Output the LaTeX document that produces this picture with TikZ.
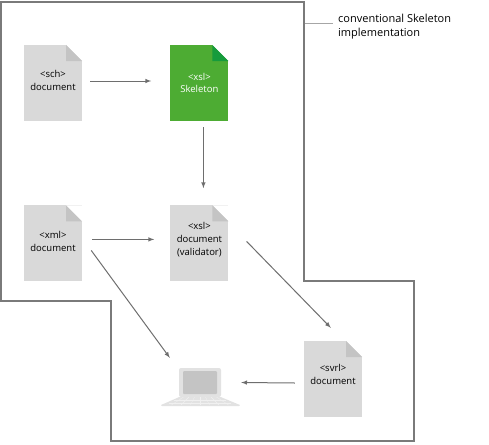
\documentclass[tikz,border=0pt]{standalone}
\usepackage{fontspec}
\setmainfont{Open Sans}
\usetikzlibrary{arrows,positioning}
\definecolor{docgray}{HTML}{D9D9D9}
\definecolor{foldgray}{HTML}{C4C4C4}
\definecolor{docgreen}{HTML}{4DAC33}
\definecolor{foldgreen}{HTML}{169B3C}
\definecolor{linegray}{HTML}{6E6E6E}
\definecolor{framegray}{HTML}{7A7A7A}
\definecolor{padgray}{HTML}{E2E2E2}
\begin{document}
\begin{tikzpicture}[x=1pt,y=-1pt,>=latex,
  doc node/.style={rectangle,fill=docgray,minimum width=58pt,minimum height=76pt,inner sep=0pt,
    align=center,font=\fontsize{9.5}{13}\selectfont,text depth=5pt,
    path picture={
      \fill[white] ([xshift=-16pt]path picture bounding box.north east) -- (path picture bounding box.north east) -- ([yshift=-16pt]path picture bounding box.north east) -- cycle;
      \fill[#1] ([xshift=-16pt]path picture bounding box.north east) -- ([yshift=-16pt]path picture bounding box.north east) -- ([shift={(-16pt,-16pt)}]path picture bounding box.north east) -- cycle;
    }},
  doc node/.default=foldgray]
  \useasboundingbox (0,0) rectangle (489,444);
  % frame round the skeleton part
  \draw[framegray,line width=2pt] (1,2) -- (304,2) -- (304,281) -- (414,281) -- (414,441) -- (111,441) -- (111,301) -- (1,301) -- cycle;

  \node[doc node] (sch) at (53,83) {<sch>\\document};
  \node[doc node=foldgreen,fill=docgreen,text=white,text depth=0pt,font=\fontsize{9.5}{12.5}\selectfont] (skel) [right=88pt of sch] {<xsl>\\Skeleton};
  \node[doc node] (xml) [below=84pt of sch] {<xml>\\document};
  \node[doc node,text depth=9pt] (xsl) [below=84pt of skel] {<xsl>\\document\\(validator)};
  \node[doc node,text depth=10pt] (svrl) at (333,379) {<svrl>\\document};

  % laptop
  \node[rectangle,rounded corners=2pt,fill=padgray,minimum width=42pt,minimum height=29pt,inner sep=0pt] (laptop) at (200,382.5) {};
  \node[rectangle,rounded corners=1pt,fill=foldgray,minimum width=34pt,minimum height=23pt,inner sep=0pt] (screen) at (laptop) {};
  \fill[padgray] (laptop.south west) -- (laptop.south east) -- (240,405) -- (239,406) -- (162,406) -- (161,405) -- cycle;
  \foreach \k in {-3,...,3}
    \draw[docgray!40,line width=0.4pt] (200+\k*5.5,397) -- (200+\k*9.5,405);
  \draw[docgray!40,line width=0.4pt] (174,400) -- (226,400) (169,403) -- (231,403);

  \coordinate (note) at (332.5,24);
  \node[anchor=north west,align=left,inner sep=0pt,font=\fontsize{11}{14}\selectfont] (title) at (338,14) {conventional Skeleton\\implementation};
  \draw[gray!70,line width=1pt] (305,24) -- (note);

  \path[every edge/.style={draw=linegray,line width=1pt,->}]
    ([shift={(8pt,2pt)}]sch.east) edge ([shift={(-19pt,2pt)}]skel.west)
    ([shift={(4pt,-6pt)}]skel.south) edge ([shift={(4pt,17pt)}]xsl.north)
    ([shift={(10pt,4pt)}]xml.east) edge ([shift={(-16pt,4pt)}]xsl.west)
    ([shift={(9pt,-7pt)}]xml.east) edge ([shift={(-9pt,10pt)}]laptop.north west)
    ([shift={(18pt,2pt)}]xsl.east) edge ([shift={(27pt,13pt)}]svrl.north west)
    ([shift={(-9pt,-4pt)}]svrl.west) edge ([shift={(20pt,0pt)}]laptop.east);
\end{tikzpicture}
\end{document}
